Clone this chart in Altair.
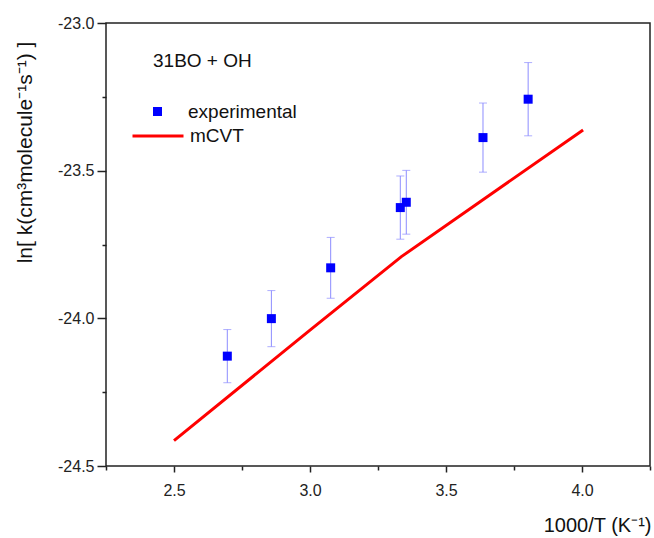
import altair as alt
import pandas as pd

# experimental points (1000/T, ln k, error)
exp_x = [2.696, 2.858, 3.076, 3.332, 3.354, 3.636, 3.802]
exp_y = [-24.128, -24.001, -23.829, -23.625, -23.607, -23.388, -23.258]
exp_err = [0.090, 0.095, 0.103, 0.107, 0.108, 0.117, 0.124]

# mCVT curve
calc_x = [2.5, 3.0, 3.336, 4.004]
calc_y = [-24.414, -24.04, -23.791, -23.362]

x_ticks = [2.25, 2.5, 2.75, 3.0, 3.25, 3.5, 3.75, 4.0, 4.25]
y_ticks = [-24.5, -24.25, -24.0, -23.75, -23.5, -23.25, -23.0]

exp_df = pd.DataFrame({
    "x": exp_x, "y": exp_y,
    "lo": [v - e for v, e in zip(exp_y, exp_err)],
    "hi": [v + e for v, e in zip(exp_y, exp_err)],
    "series": ["experimental"] * len(exp_x),
})
calc_df = pd.DataFrame({"x": calc_x, "y": calc_y, "series": ["mCVT"] * len(calc_x)})

FONT = "Liberation Sans"
major = "abs(round(datum.value*2) - datum.value*2) < 0.001"

xs = alt.Scale(domain=[2.25, 4.25], nice=False, zero=False)
ys = alt.Scale(domain=[-24.5, -23.0], nice=False, zero=False)

x_axis = alt.Axis(
    values=x_ticks, grid=False, domain=False,
    labelExpr=f"{major} ? format(datum.value, '.1f') : ''",
    tickSize=alt.condition(major, alt.value(6), alt.value(4)),
    labelPadding=10, labelFont=FONT, labelFontSize=16, labelColor="#222",
    tickColor="#222", tickWidth=1.5,
    title="1000/T (K⁻¹)", titleFont=FONT, titleFontSize=20, titleFontWeight="normal",
    titleColor="#111", titleAlign="right", titleBaseline="alphabetic",
    titleX=545, titleY=65, titleAnchor="end",
)
y_axis = alt.Axis(
    values=y_ticks, grid=False, domain=False,
    labelExpr=f"{major} ? (datum.value < 0 ? '-' : '') + format(abs(datum.value), '.1f') : ''",
    tickSize=alt.condition(major, alt.value(9), alt.value(4)),
    labelPadding=3, labelFont=FONT, labelFontSize=16, labelColor="#222",
    tickColor="#222", tickWidth=1.5,
    title="ln[ k(cm³molecule⁻¹s⁻¹) ]", titleFont=FONT, titleFontSize=21,
    titleFontWeight="normal", titleColor="#111", titleAngle=270,
    titleAlign="center", titleBaseline="middle", titleX=-81, titleY=129,
)

base_exp = alt.Chart(exp_df)

bars = base_exp.mark_rule(color="#8c8cff", strokeWidth=1).encode(
    x=alt.X("x:Q", scale=xs, axis=x_axis),
    y=alt.Y("lo:Q", scale=ys, axis=y_axis),
    y2="hi:Q",
)
caps_lo = base_exp.mark_tick(color="#8c8cff", orient="horizontal", size=8, thickness=1).encode(
    x="x:Q", y="lo:Q")
caps_hi = base_exp.mark_tick(color="#8c8cff", orient="horizontal", size=8, thickness=1).encode(
    x="x:Q", y="hi:Q")

pts = base_exp.mark_square(size=81, opacity=1).encode(
    x="x:Q", y="y:Q",
    fill=alt.Fill("series:N", scale=alt.Scale(domain=["experimental"], range=["#0000ff"]),
                  legend=alt.Legend(
                      orient="none", legendX=47, legendY=29, padding=0,
                      title="31BO + OH", titleFont=FONT, titleFontSize=19,
                      titleFontWeight="normal", titleColor="#111", titlePadding=31,
                      labelFont=FONT, labelFontSize=19, labelColor="#111",
                      labelOffset=21, symbolOffset=-5, symbolType="square", symbolSize=81,
                      symbolStrokeWidth=0, symbolOpacity=1)),
)

line = alt.Chart(calc_df).mark_line(strokeWidth=3).encode(
    x="x:Q", y="y:Q",
    stroke=alt.Stroke("series:N", scale=alt.Scale(domain=["mCVT"], range=["#ff0000"]),
                      legend=alt.Legend(
                          orient="none", legendX=25, legendY=86, padding=0,
                          title=None, labelFont=FONT, labelFontSize=19, labelColor="#111",
                          labelOffset=5, symbolType="stroke", symbolSize=2601,
                          symbolStrokeWidth=3)),
)

chart = alt.layer(bars, caps_lo, caps_hi, line, pts).resolve_scale(
    fill="independent", stroke="independent"
).properties(
    width=544, height=443,
    autosize=alt.AutoSizeParams(type="none"),
    padding={"left": 106, "top": 23, "right": 4, "bottom": 72},
).configure_view(stroke="#222", strokeWidth=1.5)

chart.save("out.html", embed_options={"renderer": "svg", "actions": False})
